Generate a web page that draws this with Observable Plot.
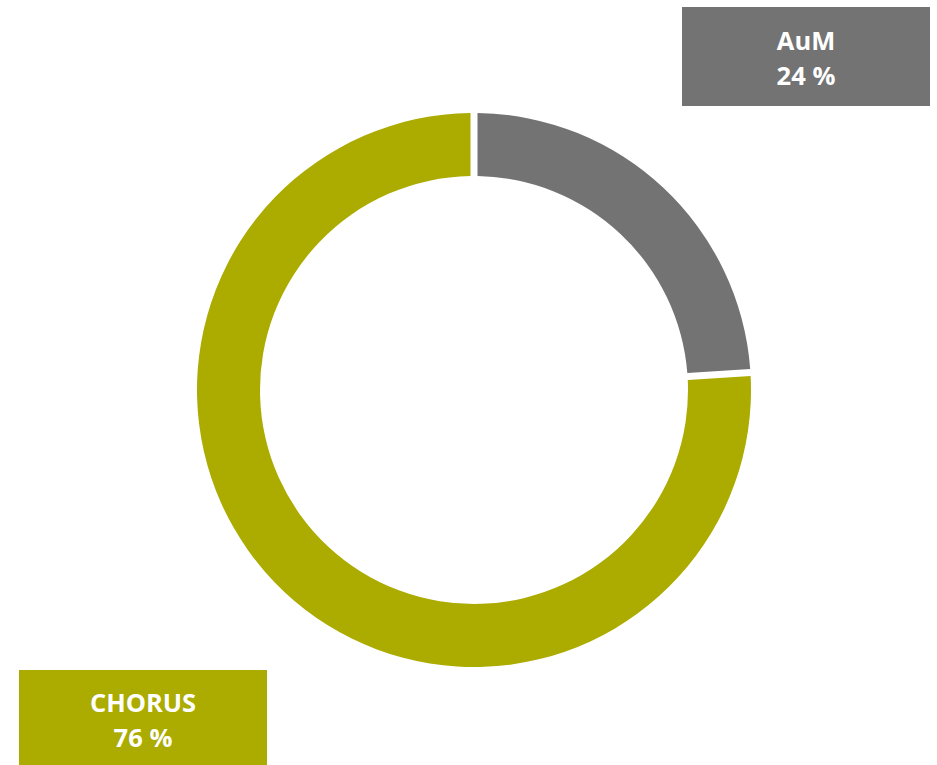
<!DOCTYPE html>
<html>
<head>
<meta charset="utf-8">
<script src="https://cdn.jsdelivr.net/npm/d3@7"></script>
<script src="https://cdn.jsdelivr.net/npm/@observablehq/plot@0.6"></script>
<style>
  html, body { margin: 0; padding: 0; background: #ffffff; }
  #chart svg { display: block; }
</style>
</head>
<body>
<div id="chart"></div>
<script>
// Data
const categories = ["AuM", "CHORUS"];
const shares = [24, 76];
const shareLabels = ["24 %", "76 %"];
const colors = ["#737373", "#ABAB00"];

const W = 937, H = 765;
const CX = 474, CY = 390, R_OUT = 277, R_IN = 214;

// Label boxes (layout only)
const boxes = [
  {x: 682, y: 7, w: 248, h: 99},
  {x: 19, y: 670, w: 248, h: 110}
];

function donut(index, scales, values, dims) {
  const g = d3.create("svg:g");
  const cx = scales.x(0), cy = scales.y(0);
  const R = scales.x(1) - scales.x(0);
  const r = R * R_IN / R_OUT;
  const color = scales.color || ((c) => colors[categories.indexOf(c)]);
  const arcs = d3.pie().sort(null).value((d) => d)(shares);
  const arc = d3.arc().innerRadius(r).outerRadius(R).padRadius(R).padAngle(7 / R);
  g.append("g")
    .attr("transform", `translate(${cx},${cy})`)
    .selectAll("path")
    .data(arcs)
    .join("path")
    .attr("d", arc)
    .attr("fill", (d, i) => color(categories[i]));

  const lab = g.append("g");
  boxes.forEach((b, i) => {
    lab.append("rect")
      .attr("x", b.x).attr("y", b.y).attr("width", b.w).attr("height", b.h)
      .attr("fill", color(categories[i]));
    const t = lab.append("text")
      .attr("text-anchor", "middle")
      .attr("fill", "#ffffff")
      .attr("font-family", "'Open Sans', sans-serif")
      .attr("font-weight", "bold")
      .attr("font-size", 25.5);
    const mx = b.x + b.w / 2;
    const base = i === 0 ? 50 : 712;
    t.append("tspan").attr("x", mx).attr("y", base).text(categories[i]);
    t.append("tspan").attr("x", mx).attr("y", base + 35).text(shareLabels[i]);
  });
  return g.node();
}

const chart = Plot.plot({
  width: W,
  height: H,
  margin: 0,
  x: {domain: [-CX / R_OUT, (W - CX) / R_OUT], axis: null},
  y: {domain: [-(H - CY) / R_OUT, CY / R_OUT], axis: null},
  color: {domain: categories, range: colors},
  marks: [donut]
});
document.getElementById("chart").append(chart);
</script>
</body>
</html>
